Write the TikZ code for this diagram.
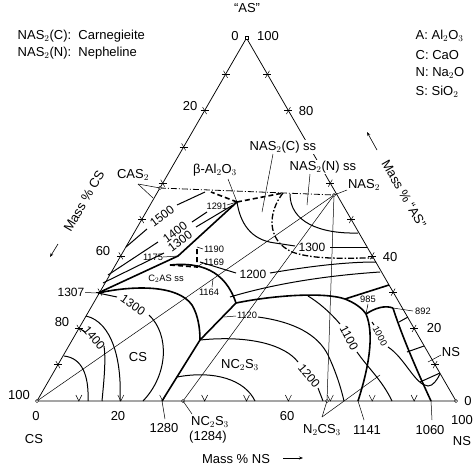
\documentclass[tikz,border=0pt]{standalone}
\usepackage{fontspec}
\setmainfont{Liberation Sans}
\usetikzlibrary{arrows.meta,calc}
\begin{document}
\begin{tikzpicture}[x=1pt,y=-1pt,
  edge/.style={line width=0.75pt},
  joinl/.style={line width=0.5pt},
  bnd/.style={line width=1.6pt},
  iso/.style={line width=1.0pt},
  dbnd/.style={line width=1.6pt,dash pattern=on 5pt off 3pt},
  ddot/.style={line width=0.8pt,dash pattern=on 6pt off 2pt on 1pt off 2pt},
  dbd/.style={line width=1.3pt,dash pattern=on 6pt off 2pt on 1.5pt off 2pt},
  lbl/.style={font=\fontsize{13}{14}\selectfont,inner sep=0.5pt},
  num/.style={font=\fontsize{12}{13}\selectfont,inner sep=0.5pt},
  sml/.style={font=\fontsize{9.3}{10}\selectfont,inner sep=0.5pt},
  lead/.style={line width=0.5pt},
  tk/.style={line width=0.5pt}]
\useasboundingbox (0,0) rectangle (474,466);
% corners and compounds
\coordinate (CS) at (37,401);
\coordinate (NS) at (456,401);
\coordinate (AS) at (246.5,38);
\coordinate (CAS2) at (160,188);
\coordinate (NAS2) at (334,195);
\coordinate (NC2S3) at (183,401);
\coordinate (N2CS3) at (327,401);
\coordinate (P1307) at (98,293);
\coordinate (P1291) at (237,202);
\coordinate (P1175) at (178,256);
\coordinate (J1) at (236,303);
\coordinate (J2) at (200,340);
\coordinate (P985) at (366,314);
\coordinate (P892) at (393,308);
\coordinate (P1141) at (358,401);
\coordinate (P1060) at (431,401);
\coordinate (P1280) at (162,401);
% triangle
\draw[edge] (CS) -- (AS) -- (NS) -- cycle;
% ticks
\foreach \i in {1,...,9}{
  \draw[tk] ($(37,401)+(\i*41.9,0)$) ++(-3,-6) -- ++(3,6) -- ++(3,-6);
  \draw[tk] ($(37,401)+(\i*20.95,-\i*36.3)$) ++(-4,0) -- ++(8,0);
  \draw[tk] ($(37,401)+(\i*20.95,-\i*36.3)$) ++(-2,-3.5) -- ++(4,7);
  \draw[tk] ($(456,401)+(-\i*20.95,-\i*36.3)$) ++(-4,0) -- ++(8,0);
  \draw[tk] ($(456,401)+(-\i*20.95,-\i*36.3)$) ++(2,-3.5) -- ++(-4,7);
}
% join lines
\draw[ddot] (CAS2) -- (NAS2);
\draw[joinl] (CS) -- (NAS2);
\draw[joinl] (NC2S3) -- (NAS2);
\draw[joinl] (N2CS3) -- (NAS2);
% CAS2 field isotherms
\draw[iso] (126,247) -- (147,229);
\draw[iso] (177,205) -- (205,192);
\draw[iso] (108,275) -- (158,242);
\draw[iso] (192,222) -- (207,212);
\draw[iso] (103,283) -- (164,253);
\draw[iso] (196,227) -- (233,205);
% CAS2 field boundaries
\draw[bnd] (P1307) -- (P1175) -- (P1291);
\draw[dbnd] (P1291) -- (211,192);
\draw[dbnd] (P1291) -- (283,193);
% C2AS ss boundaries
\draw[bnd] (170,265) .. controls (200,262) and (225,270) .. (J1);
\draw[dbnd] (170,265) -- (197,267) -- (197,247);
\draw[bnd] (P1307) .. controls (135,285) and (178,285) .. (192,305) .. controls (198,315) and (200,328) .. (J2);
% NAS2 fields
\draw[dbd] (283,193) .. controls (268,212) and (266,240) .. (292,252) .. controls (315,260) and (345,258) .. (373,258);
\draw[iso] (290,194) .. controls (290,222) and (320,234) .. (358,233);
\draw[iso] (P1291) .. controls (240,222) and (250,240) .. (275,243) -- (295,246);
\draw[iso] (330,247) -- (367,247);
\draw[iso] (200,262) -- (236,273);
\draw[iso] (270,273) .. controls (300,268) and (340,262) .. (376,262);
\draw[iso] (230,297) .. controls (270,285) and (320,276) .. (380,272);
% junction lines
\draw[bnd] (J1) -- (J2) -- (P1280);
\draw[bnd] (J1) .. controls (275,295) and (325,292) .. (345,299) .. controls (355,303) and (362,308) .. (P985);
\draw[bnd] (345,299) -- (389,285);
\draw[bnd] (P985) .. controls (375,335) and (368,370) .. (P1141);
\draw[bnd] (P985) .. controls (375,308) and (385,305) .. (P892);
\draw[bnd] (P892) .. controls (400,330) and (412,360) .. (P1060);
% NS field ladder isotherms
\draw[iso] (399,322) -- (408,317);
\draw[iso] (407,352) -- (424,346);
\draw[iso] (420,382) -- (440,373);
% NC2S3 / N2CS3 isotherms
\draw[iso] (J2) .. controls (250,335) and (285,345) .. (298,362);
\draw[iso] (318,388) -- (323,401);
\draw[iso] (177,377) .. controls (215,370) and (245,380) .. (255,401);
\draw[iso] (258,317) .. controls (295,322) and (318,335) .. (328,355) .. controls (336,372) and (341,388) .. (344,401);
\draw[iso] (308,296) .. controls (318,302) and (330,312) .. (340,324);
\draw[iso] (357,352) .. controls (368,368) and (382,380) .. (392,401);
\draw[iso] (372,322) -- (374,325);
\draw[iso] (388,347) .. controls (405,358) and (415,385) .. (428,386) .. controls (433,386) and (437,380) .. (440,374);
% CS field isotherms
\draw[iso] (P1307) -- (117,297);
\draw[iso] (149,315) .. controls (170,335) and (168,375) .. (143,401);
\draw[iso] (86,316) .. controls (112,322) and (122,360) .. (120,401);
\draw[iso] (79,328) -- (85,332);
\draw[iso] (104,346) .. controls (106,360) and (104,380) .. (102,401);
\draw[iso] (64,356) .. controls (82,358) and (89,375) .. (88,401);
% point markers
\draw[lead,fill=white] (CS) circle (1.6);
\draw[lead,fill=white] (NS) circle (1.6);
\draw[lead,fill=white] (AS) ++(-1.6,-1.6) rectangle ++(3.2,3.2);
\draw[lead,fill=white] (CAS2) circle (1.6);
\draw[lead,fill=white] (NAS2) circle (1.6);
\draw[lead,fill=white] (NC2S3) circle (1.6);
\draw[lead,fill=white] (N2CS3) circle (1.6);
% labels
\node[lbl,anchor=west] at (17,36) {NAS$_2$(C):\ \ Carnegieite};
\node[lbl,anchor=west] at (17,53) {NAS$_2$(N):\ \ Nepheline};
\node[lbl,anchor=west] at (415,36) {A:\ Al$_2$O$_3$};
\node[lbl,anchor=west] at (415,55) {C:\ CaO};
\node[lbl,anchor=west] at (415,73) {N:\ Na$_2$O};
\node[lbl,anchor=west] at (415,92) {S:\ SiO$_2$};
\node[lbl] at (247,8) {``AS''};
\node[lbl] at (235,36) {0};
\node[lbl] at (268,36) {100};
\node[lbl] at (190,106) {20};
\node[lbl] at (306,111) {80};
\node[lbl] at (103,251) {60};
\node[lbl] at (390,257) {40};
\node[lbl] at (62,322) {80};
\node[lbl] at (434,328) {20};
\node[lbl] at (19,395) {100};
\node[lbl] at (36,416) {0};
\node[lbl] at (34,439) {CS};
\node[lbl] at (118,416) {20};
\node[lbl] at (287,416) {60};
\node[lbl] at (468,401) {0};
\node[lbl] at (462,420) {100};
\node[lbl] at (462,441) {NS};
\node[lbl] at (236,459) {Mass \% NS};
\draw[-{Stealth[length=4pt]},line width=0.6pt] (283,458) -- (303,458);
\node[lbl,rotate=60] at (84,201) {Mass \% CS};
\draw[-{Stealth[length=4pt]},line width=0.6pt] (58,244) -- (50,257);
\node[lbl,rotate=-60] at (404,194) {Mass \% ``AS''};
\draw[-{Stealth[length=4pt]},line width=0.6pt] (377,150) -- (367,132);
% field labels
\node[lbl] (lCAS2) at (133,175) {CAS$_2$};
\draw[lead] (138,184) -- (CAS2);
\draw[lead] (138,184) -- (153,198);
\node[lbl] (lbeta) at (215,170) {β-Al$_2$O$_3$};
\draw[lead] (228,179) -- (P1291);
\node[lbl,fill=white] (lnasc) at (283,147) {NAS$_2$(C) ss};
\draw[lead] (273,154) -- (262,212);
\node[lbl,fill=white] (lnasn) at (323,167) {NAS$_2$(N) ss};
\draw[lead] (310,174) -- (307,205);
\node[lbl] (lnas2) at (364,185) {NAS$_2$};
\draw[lead] (347,190) -- (NAS2);
\node[sml] at (166,279) {C$_2$AS ss};
\node[lbl] at (138,357) {CS};
\node[lbl] at (240,365) {NC$_2$S$_3$};
\node[lbl] at (451,352) {NS};
\draw[lead] (441,355) -- (428,362);
\node[num] (l1307) at (71,292) {1307};
\draw[lead] (l1307) -- (P1307);
\node[num,rotate=37] at (162,216) {1500};
\node[num,rotate=37] at (175,232) {1400};
\node[num,rotate=37] at (180,241) {1300};
\node[sml] at (217,206) {1291};
\draw[lead] (227,205) -- (P1291);
\node[sml] at (153,257) {1175};
\draw[lead] (163,257) -- (P1175);
\node[sml] at (214,249) {1190};
\node[sml] at (214,262) {1169};
\draw[lead] (203,249) -- (197,247);
\draw[lead] (203,263) -- (197,267);
\node[sml] at (209,292) {1164};
\draw[lead] (212,287) -- (213,279);
\node[num] at (253,274) {1200};
\node[sml] at (247,315) {1120};
\draw[lead] (224,317) -- (236,316);
\node[num] at (312,247) {1300};
\node[sml] at (368,299) {985};
\draw[lead] (368,304) -- (P985);
\node[sml] at (423,311) {892};
\draw[lead] (413,311) -- (P892);
\node[sml,rotate=-62] at (380,336) {1000};
\node[num,rotate=-62] at (349,338) {1100};
\node[num,rotate=-50] at (309,376) {1200};
\node[num,rotate=-35] at (133,305) {1300};
\node[num,rotate=-50] at (94,338) {1400};
\node[lbl] at (164,428) {1280};
\draw[lead] (P1280) -- (165,419);
\node[lbl] at (210,422) {NC$_2$S$_3$};
\node[lbl] at (208,437) {(1284)};
\draw[lead] (NC2S3) -- (192,414);
\node[lbl] at (322,430) {N$_2$CS$_3$};
\draw[lead] (322,417) -- (N2CS3);
\draw[lead] (322,417) -- (380,375);
\node[lbl] at (367,430) {1141};
\draw[lead] (P1141) -- (364,420);
\node[lbl] at (430,430) {1060};
\draw[lead] (P1060) -- (432,420);
\end{tikzpicture}
\end{document}
